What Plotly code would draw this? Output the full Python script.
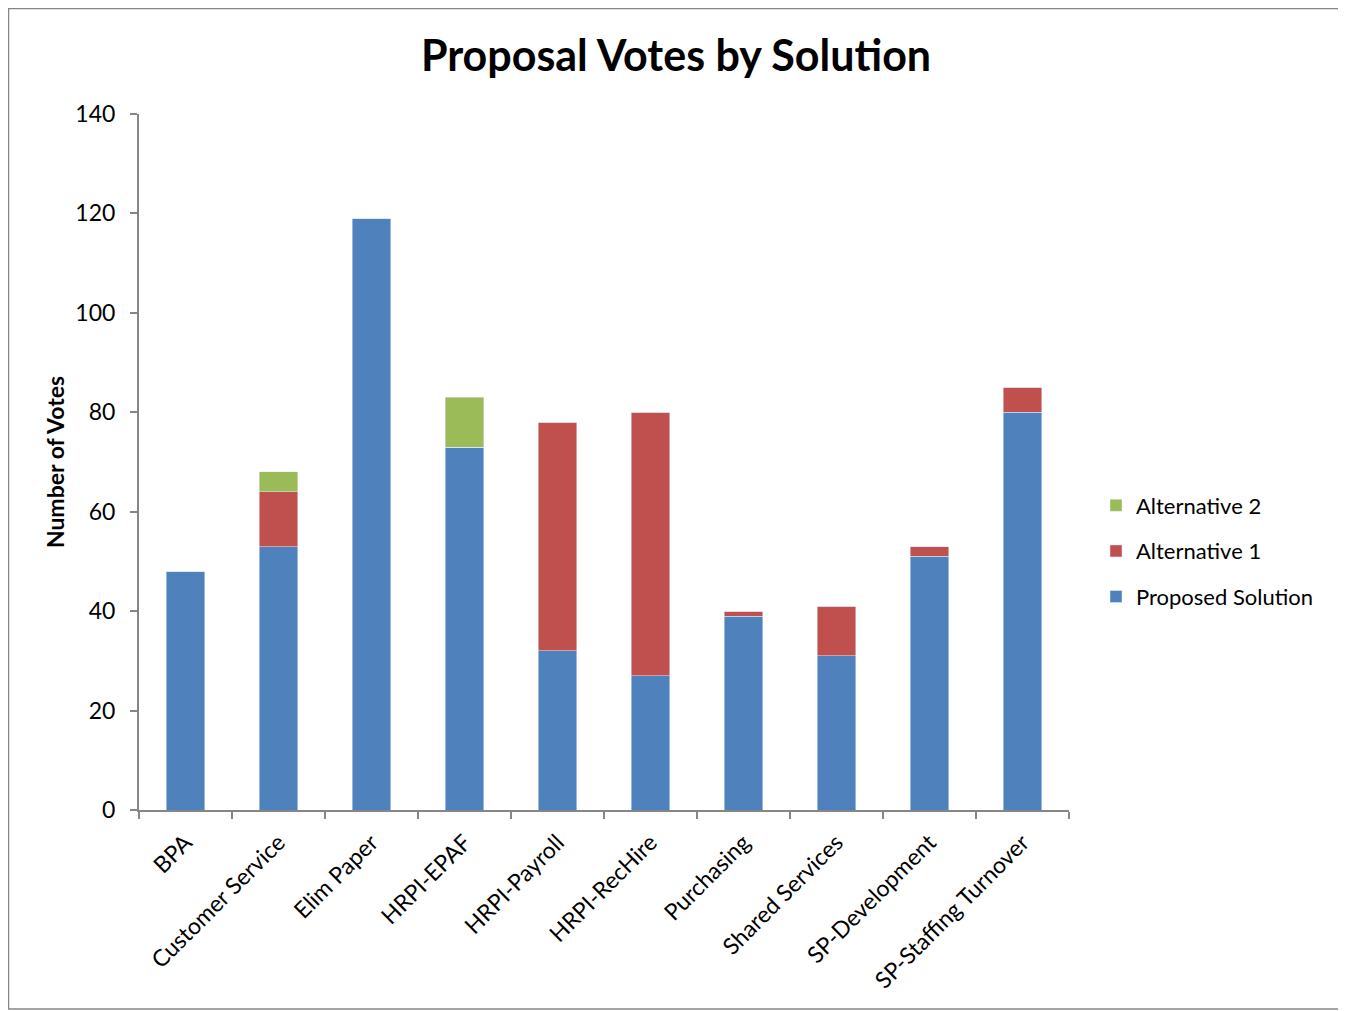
import plotly.graph_objects as go

categories = ["BPA", "Customer Service", "Elim Paper", "HRPI-EPAF", "HRPI-Payroll",
              "HRPI-RecHire", "Purchasing", "Shared Services", "SP-Development",
              "SP-Staffing Turnover"]
proposed = [48, 53, 119, 73, 32, 27, 39, 31, 51, 80]
alt1 = [0, 11, 0, 0, 46, 53, 1, 10, 2, 5]
alt2 = [0, 4, 0, 10, 0, 0, 0, 0, 0, 0]
y_ticks = [0, 20, 40, 60, 80, 100, 120, 140]

FONT = "Lato, 'Open Sans', sans-serif"

fig = go.Figure()
fig.add_trace(go.Bar(name="Proposed Solution", x=categories, y=proposed,
                     marker_color="#4F81BD", legendgroup="p", legendrank=3))
fig.add_trace(go.Bar(name="Alternative 1", x=categories, y=alt1,
                     marker_color="#C0504D", legendgroup="a1", legendrank=2))
fig.add_trace(go.Bar(name="Alternative 2", x=categories, y=alt2,
                     marker_color="#9BBB59", legendgroup="a2", legendrank=1))

# page is offset by 8px (body margin); coordinates below are figure coords
L, R, T, B = 131, 285, 106, 209
W, H = 1346, 1011
pw, ph = W - L - R, H - T - B

def px(x):
    return (x - L) / pw

def py(y):
    return (H - B - y) / ph

fig.update_layout(
    barmode="stack",
    bargap=0.59,
    width=W, height=H,
    autosize=False,
    margin=dict(l=L, r=R, t=T, b=B),
    paper_bgcolor="white",
    plot_bgcolor="white",
    font=dict(family=FONT, color="black", size=20),
    title=dict(text="<b>Proposal Votes by Solution</b>", x=668 / W, xanchor="center",
               y=1 - 48 / H, yanchor="middle",
               font=dict(family=FONT, size=43, color="black")),
    legend=dict(traceorder="grouped", x=px(1088), xanchor="left", y=py(543), yanchor="middle",
                font=dict(family=FONT, size=22), itemwidth=30, tracegroupgap=14,
                bgcolor="rgba(0,0,0,0)"),
    xaxis=dict(showline=True, linecolor="#868686", linewidth=2, ticks="outside",
               tickson="boundaries", ticklen=7, tickcolor="#868686", tickwidth=1.5,
               tickangle=-45, tickfont=dict(family=FONT, size=23), showgrid=False,
               ticklabelstandoff=8),
    yaxis=dict(range=[0, 140], tickvals=y_ticks, showline=True, linecolor="#868686",
               linewidth=2, ticks="outside", ticklen=7, tickcolor="#868686", tickwidth=1.5,
               showgrid=False, zeroline=False, tickfont=dict(family=FONT, size=23),
               ticklabelstandoff=10,
               title=dict(text="<b>Number of Votes</b>", standoff=4,
                          font=dict(family=FONT, size=23))),
    shapes=[dict(type="rect", xref="paper", yref="paper",
                 x0=px(0.5), x1=px(1336), y0=py(1001), y1=py(0.5),
                 line=dict(color="#868686", width=1.5), layer="below")],
)

fig.write_html("out.html")
